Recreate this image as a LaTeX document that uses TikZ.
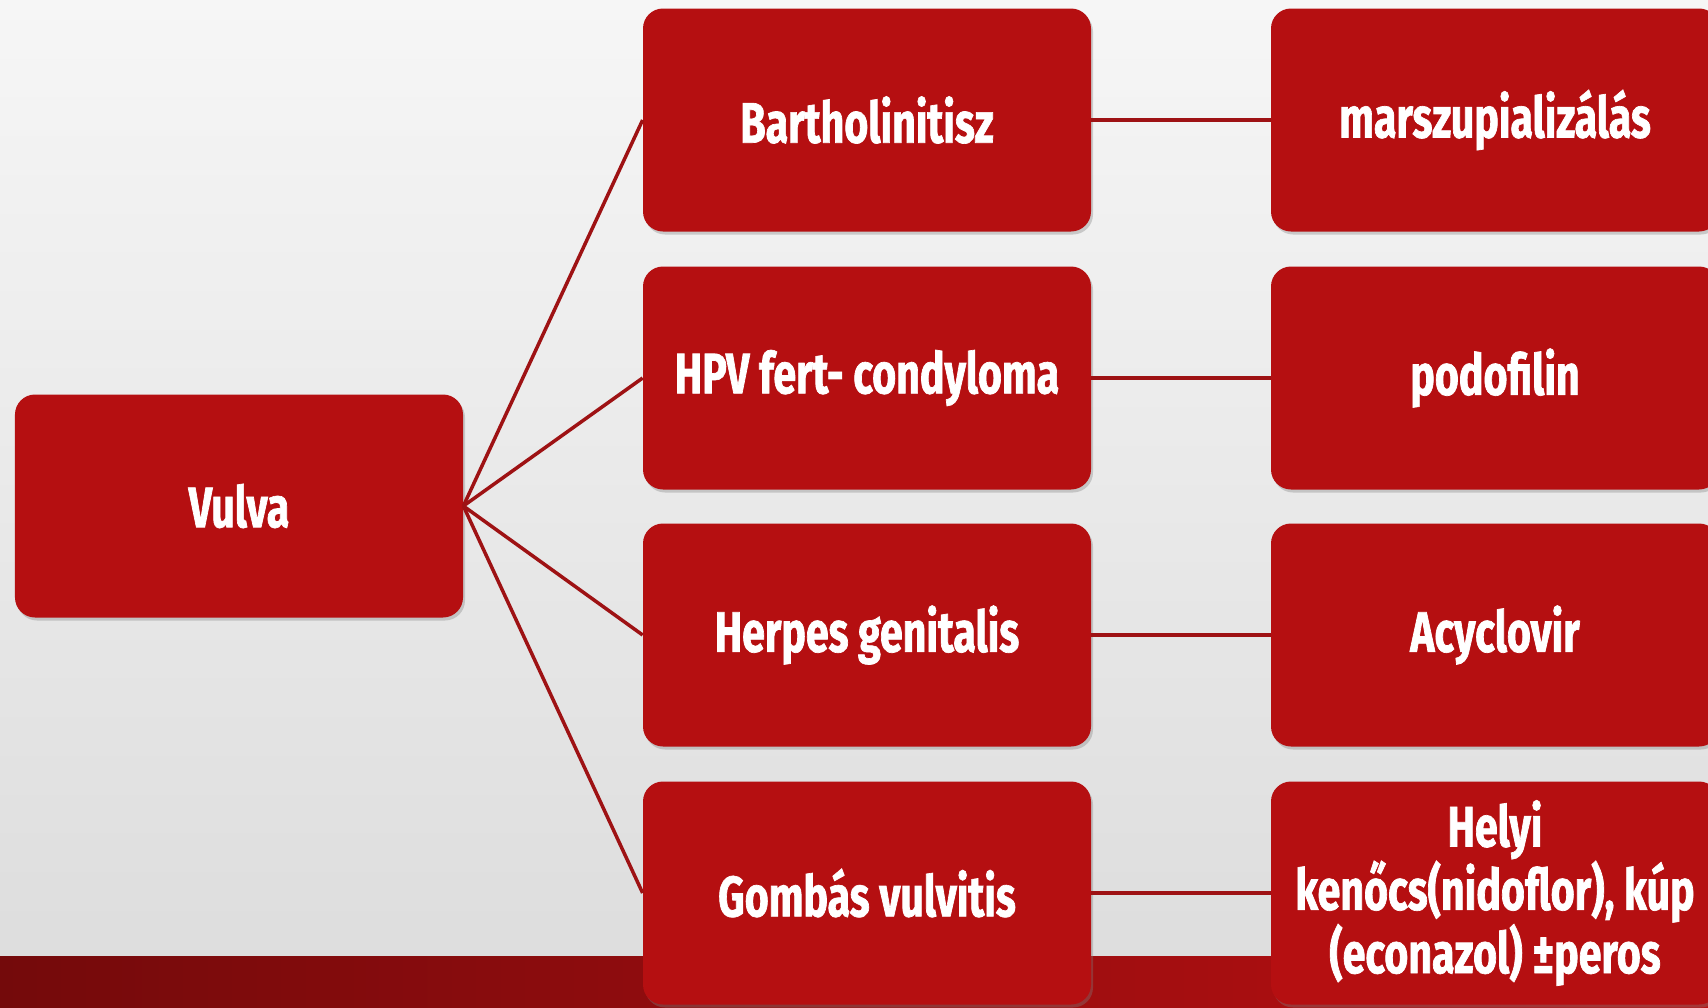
\documentclass[tikz,border=0pt]{standalone}
\usepackage{fontspec}
\setmainfont{Fira Sans}[FakeStretch=0.72,BoldFeatures={FakeBold=1.2}]
\usepackage{xcolor}
\usetikzlibrary{positioning,shadows}

\definecolor{boxred}{HTML}{B50F11}
\definecolor{linered}{HTML}{9E1214}
\definecolor{bardark}{HTML}{740A0B}
\definecolor{barred}{HTML}{BA1012}
\definecolor{bgtop}{HTML}{F6F6F6}
\definecolor{bgbot}{HTML}{DCDCDC}

\begin{document}
\begin{tikzpicture}[x=0.2mm,y=-0.2mm,
   box/.style={rounded corners=4mm,fill=boxred,minimum width=89.6mm,minimum height=44.6mm,
     inner sep=0pt,text=white,align=center,font=\bfseries\fontsize{32.5}{36}\selectfont,
     drop shadow={opacity=0.35,shadow xshift=0.4mm,shadow yshift=-0.6mm}},
   ln/.style={draw=linered,line width=0.7mm}]
  \useasboundingbox (0,0) rectangle (1708,1007);
  \shade[top color=bgtop,bottom color=bgbot] (0,0) rectangle (1708,1007);
  \shade[left color=bardark,right color=barred] (0,956) rectangle (1708,1007);
  % root
  \node[box] (vulva) at (239,506) {Vulva};
  % diagnoses
  \node[box] (bart) at (867,120) {Bartholinitisz};
  \node[box] (hpv) at (867,378) {HPV fert- condyloma};
  \node[box] (herpes) at (867,635) {Herpes genitalis};
  \node[box] (gomba) at (867,893) {Gombás vulvitis};
  % treatments
  \node[box] (marsz) at (1495,120) {marszupializálás};
  \node[box] (podo) at (1495,378) {podofilin};
  \node[box] (acyc) at (1495,635) {Acyclovir};
  \node[box] (helyi) at (1495,893) {Helyi\\kenőcs(nidoflor), kúp\\(econazol) ±peros};
  \draw[ln] (vulva.east)--(bart.west);
  \draw[ln] (vulva.east)--(hpv.west);
  \draw[ln] (vulva.east)--(herpes.west);
  \draw[ln] (vulva.east)--(gomba.west);
  \draw[ln] (bart)--(marsz);
  \draw[ln] (hpv)--(podo);
  \draw[ln] (herpes)--(acyc);
  \draw[ln] (gomba)--(helyi);
\end{tikzpicture}
\end{document}
